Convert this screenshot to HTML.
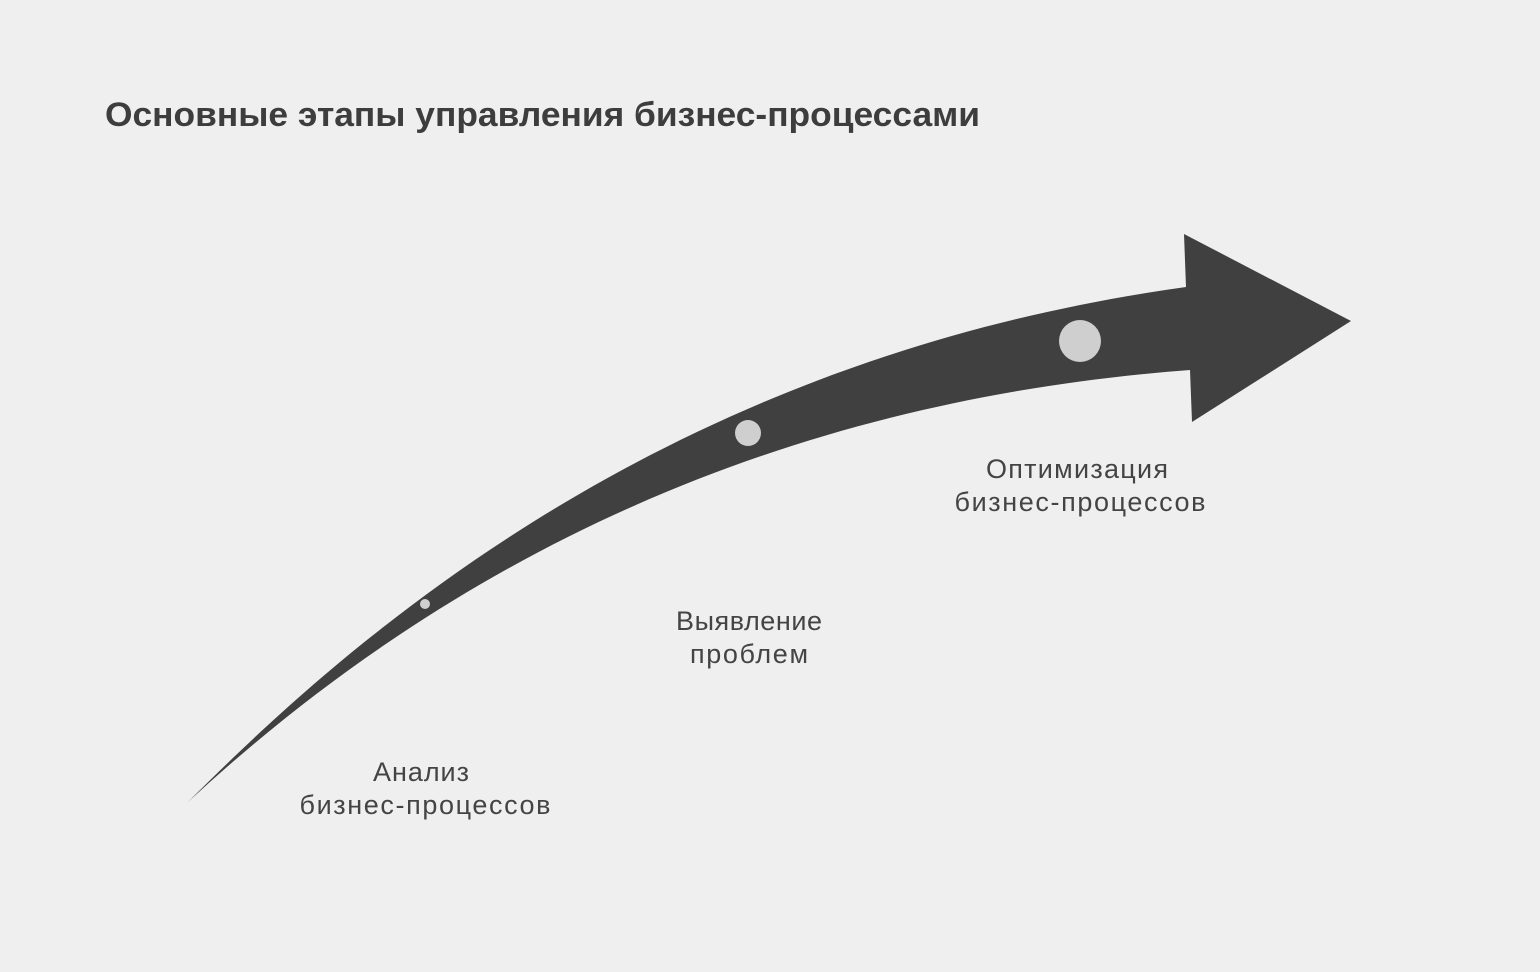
<!DOCTYPE html>
<html><head><meta charset="utf-8"><style>
body{margin:0;background:#efefef;width:1540px;height:967px;overflow:hidden;font-family:"Liberation Sans",sans-serif;}
</style></head><body>
<svg width="1540" height="967" xmlns="http://www.w3.org/2000/svg">
<rect width="1540" height="967" fill="#efefef"/>
<text x="105" y="126" font-family="Liberation Sans, sans-serif" font-weight="bold" font-size="34" fill="#3d3d3d" textLength="875" lengthAdjust="spacingAndGlyphs">Основные этапы управления бизнес-процессами</text>
<path d="M188,802 C350,640 660,360 1186,287 L1184,234 L1351,321 L1192,422 L1190,370 C790,400 460,550 188,802 Z" fill="#404040"/>
<circle cx="425" cy="604" r="5" fill="#cfcfcf"/>
<circle cx="748" cy="433" r="13" fill="#cfcfcf"/>
<circle cx="1080" cy="341" r="21" fill="#cfcfcf"/>
<g font-family="Liberation Sans, sans-serif" font-size="27" fill="#444" text-anchor="middle" lengthAdjust="spacingAndGlyphs">
<text x="1077" y="478" textLength="182">Оптимизация</text>
<text x="1080" y="511" textLength="251">бизнес-процессов</text>
<text x="749" y="630" textLength="146">Выявление</text>
<text x="749" y="663" textLength="118">проблем</text>
<text x="421" y="781" textLength="96">Анализ</text>
<text x="425" y="814" textLength="251">бизнес-процессов</text>
</g>
</svg>
</body></html>
